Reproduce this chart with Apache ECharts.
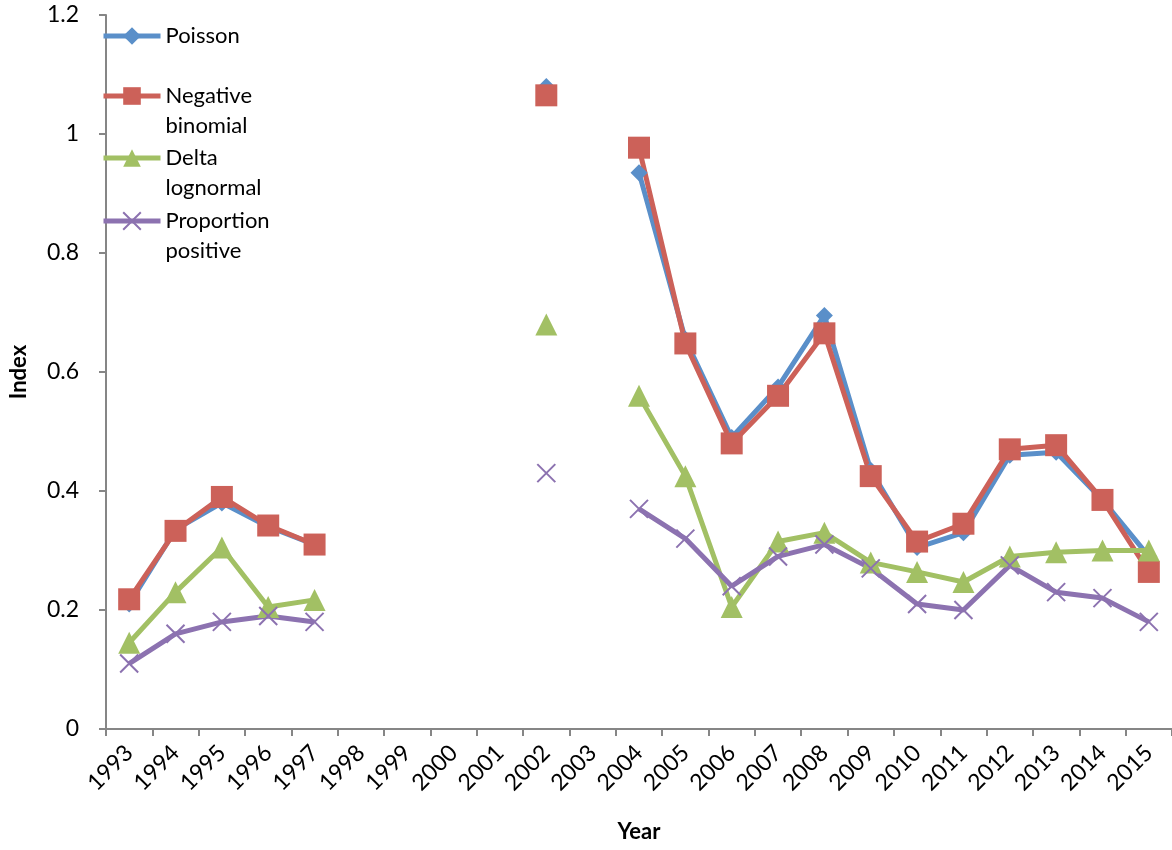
<!DOCTYPE html>
<html>
<head>
<meta charset="UTF-8">
<title>Index by year</title>
<script src="https://cdn.jsdelivr.net/npm/echarts@6/dist/echarts.min.js"></script>
<style>
html,body{margin:0;padding:0;background:#fff;}
#chart{width:1172px;height:850px;}
</style>
</head>
<body>
<div id="chart"></div>
<script>
var years = ['1993','1994','1995','1996','1997','1998','1999','2000','2001','2002','2003',
  '2004','2005','2006','2007','2008','2009','2010','2011','2012','2013','2014','2015'];
var poisson = [0.21,0.335,0.38,0.34,0.31,null,null,null,null,1.08,null,
  0.935,0.655,0.49,0.575,0.695,0.435,0.305,0.33,0.46,0.465,0.385,0.29];
var negBinomial = [0.218,0.333,0.39,0.342,0.31,null,null,null,null,1.065,null,
  0.977,0.648,0.48,0.56,0.665,0.425,0.315,0.345,0.47,0.477,0.385,0.264];
var deltaLognormal = [0.145,0.23,0.305,0.205,0.217,null,null,null,null,0.68,null,
  0.56,0.425,0.205,0.315,0.33,0.28,0.264,0.247,0.29,0.297,0.3,0.3];
var propPositive = [0.11,0.16,0.18,0.19,0.18,null,null,null,null,0.43,null,
  0.37,0.32,0.24,0.29,0.31,0.27,0.21,0.2,0.275,0.23,0.22,0.18];
var yTicks = [0, 0.2, 0.4, 0.6, 0.8, 1, 1.2];

var FONT = 'Lato';
var grey = '#868686';
var crossPath = 'path://M0,0 L10,10 M10,0 L0,10';

var myChart = echarts.init(document.getElementById('chart'));

function mkSeries(name, data, color, symbol, size, extra) {
  var s = {
    name: name, type: 'line', data: data,
    symbol: symbol, symbolSize: size,
    lineStyle: {color: color, width: 5},
    itemStyle: {color: color},
    connectNulls: false,
    animation: false
  };
  if (extra) { for (var k in extra) s[k] = extra[k]; }
  return s;
}

// one legend per series so each entry sits where the original has it
// leading '\n' keeps the icon level with the first text line
function mkLegend(name, label, top) {
  return {
    data: [name], left: 101, top: top, orient: 'vertical',
    itemWidth: 57, itemHeight: 22, padding: 0,
    lineStyle: {width: 5},
    formatter: function () { return label; },
    textStyle: {fontFamily: FONT, fontSize: 22, color: '#000', lineHeight: 30}
  };
}

option = {
  backgroundColor: '#fff',
  animation: false,
  grid: {left: 101, top: 15, width: 1074, bottom: 121, containLabel: false},
  legend: [
    mkLegend('Poisson', 'Poisson', 21),
    mkLegend('Negative binomial', '\nNegative\nbinomial', 51),
    mkLegend('Delta lognormal', '\nDelta\nlognormal', 113),
    mkLegend('Proportion positive', '\nProportion\npositive', 176)
  ],
  xAxis: {
    type: 'category', data: years, boundaryGap: true,
    name: 'Year', nameLocation: 'middle', nameGap: 92,
    nameTextStyle: {fontFamily: FONT, fontSize: 22, fontWeight: 'bold', color: '#000'},
    axisLine: {lineStyle: {color: grey, width: 2}},
    axisTick: {show: true, alignWithLabel: false, length: 7, lineStyle: {color: grey, width: 2}},
    axisLabel: {rotate: 45, interval: 0, margin: 20, fontFamily: FONT, fontSize: 23, color: '#000'},
    splitLine: {show: false}
  },
  yAxis: {
    type: 'value', min: yTicks[0], max: yTicks[yTicks.length - 1], interval: 0.2,
    name: 'Index', nameLocation: 'middle', nameGap: 76, nameRotate: 90,
    nameTextStyle: {fontFamily: FONT, fontSize: 22, fontWeight: 'bold', color: '#000'},
    axisLine: {show: true, lineStyle: {color: grey, width: 2}},
    axisTick: {show: true, length: 7, lineStyle: {color: grey, width: 2}},
    axisLabel: {margin: 27, fontFamily: FONT, fontSize: 23, color: '#000'},
    splitLine: {show: false}
  },
  series: [
    mkSeries('Poisson', poisson, '#5A8FC9', 'diamond', 17),
    mkSeries('Negative binomial', negBinomial, '#CC6159', 'rect', 22),
    mkSeries('Delta lognormal', deltaLognormal, '#A2C064', 'triangle', 22),
    mkSeries('Proportion positive', propPositive, '#8C72B0', crossPath, 18,
      {itemStyle: {color: 'none', borderColor: '#8C72B0', borderWidth: 2}})
  ]
};

myChart.setOption(option);
</script>
</body>
</html>
